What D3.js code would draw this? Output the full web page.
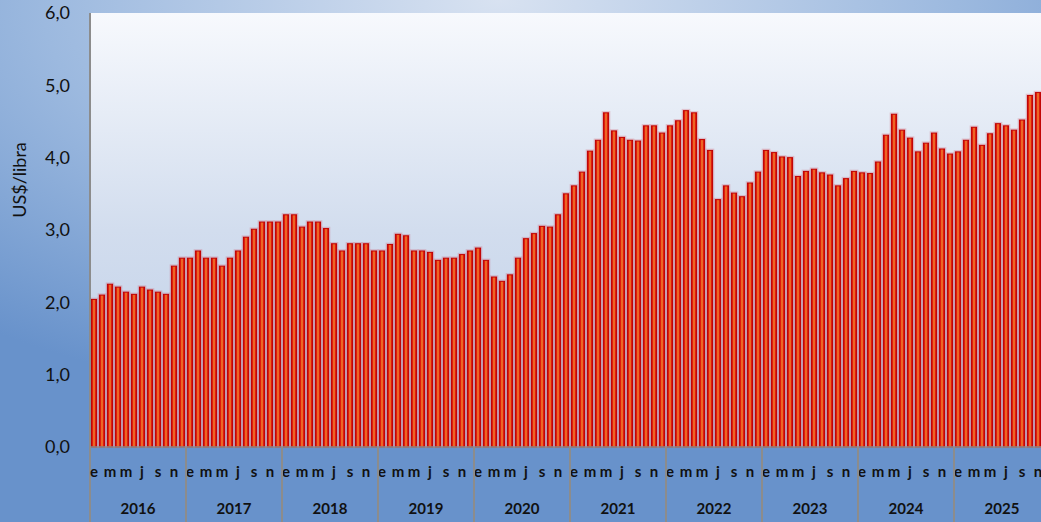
<!DOCTYPE html>
<html>
<head>
<meta charset="utf-8">
<script src="https://cdn.jsdelivr.net/npm/d3@7"></script>
<style>
  html, body { margin: 0; padding: 0; overflow: hidden; }
  body { width: 1041px; height: 522px; }
  svg { display: block; font-family: Lato, "Open Sans", sans-serif; }
</style>
</head>
<body>
<svg id="chart" width="1041" height="522"></svg>
<script>
// ---- data ----
const years = ["2016","2017","2018","2019","2020","2021","2022","2023","2024","2025"];
const monthLabels = ["e","","m","","m","","j","","s","","n",""];
const yTicks = [0, 1, 2, 3, 4, 5, 6];
const prices = [
  2.04, 2.10, 2.25, 2.21, 2.14, 2.11, 2.21, 2.17, 2.14, 2.11, 2.50, 2.61,
  2.61, 2.71, 2.61, 2.61, 2.50, 2.61, 2.71, 2.90, 3.01, 3.11, 3.11, 3.11,
  3.21, 3.21, 3.04, 3.11, 3.11, 3.02, 2.81, 2.71, 2.81, 2.81, 2.81, 2.71,
  2.71, 2.80, 2.94, 2.92, 2.71, 2.71, 2.69, 2.58, 2.61, 2.61, 2.66, 2.71,
  2.75, 2.58, 2.35, 2.29, 2.38, 2.61, 2.88, 2.95, 3.05, 3.04, 3.21, 3.50,
  3.61, 3.80, 4.09, 4.24, 4.62, 4.37, 4.28, 4.24, 4.23, 4.44, 4.44, 4.34,
  4.44, 4.51, 4.65, 4.62, 4.25, 4.10, 3.42, 3.61, 3.51, 3.46, 3.65, 3.80,
  4.10, 4.07, 4.01, 4.00, 3.74, 3.81, 3.84, 3.79, 3.76, 3.61, 3.71, 3.81,
  3.79, 3.78, 3.94, 4.31, 4.60, 4.38, 4.27, 4.08, 4.20, 4.34, 4.12, 4.05,
  4.08, 4.24, 4.42, 4.17, 4.33, 4.47, 4.44, 4.38, 4.52, 4.86, 4.90
];

// ---- layout ----
const W = 1041, H = 522;
const plotL = 90, plotR = 1050, plotT = 13, plotB = 447;

const svg = d3.select("#chart");
const defs = svg.append("defs");

const bg = defs.append("radialGradient").attr("id", "bgGrad")
  .attr("cx", "48%").attr("cy", "0%").attr("r", "80%")
  .attr("gradientUnits", "objectBoundingBox");
bg.append("stop").attr("offset", "0").attr("stop-color", "#d8e2f1");
bg.append("stop").attr("offset", "0.55").attr("stop-color", "#9cb9df");
bg.append("stop").attr("offset", "1").attr("stop-color", "#6892cb");

const pg = defs.append("linearGradient").attr("id", "plotGrad")
  .attr("x1", 0).attr("y1", 0).attr("x2", 0).attr("y2", 1);
pg.append("stop").attr("offset", "0").attr("stop-color", "#f7f9fd");
pg.append("stop").attr("offset", "0.5").attr("stop-color", "#d2ddee");
pg.append("stop").attr("offset", "1").attr("stop-color", "#bccde7");

const barG = defs.append("linearGradient").attr("id", "barGrad")
  .attr("x1", 0).attr("y1", 0).attr("x2", 1).attr("y2", 0);
barG.append("stop").attr("offset", "0").attr("stop-color", "#d00c08");
barG.append("stop").attr("offset", "0.3").attr("stop-color", "#e3260e");
barG.append("stop").attr("offset", "0.5").attr("stop-color", "#f6a23c");
barG.append("stop").attr("offset", "0.7").attr("stop-color", "#e3260e");
barG.append("stop").attr("offset", "1").attr("stop-color", "#d00c08");

svg.append("rect").attr("width", W).attr("height", H).attr("fill", "url(#bgGrad)");
svg.append("rect").attr("x", plotL).attr("y", plotT)
  .attr("width", plotR - plotL).attr("height", plotB - plotT)
  .attr("fill", "url(#plotGrad)");

// ---- scales ----
const nSlots = years.length * 12;
const x = d3.scaleBand().domain(d3.range(nSlots)).range([plotL, plotR])
  .paddingInner(0.36).paddingOuter(0.18);
const xYear = d3.scaleBand().domain(years).range([plotL, plotR]);
const y = d3.scaleLinear().domain([0, 6]).range([plotB, plotT]);

const fmt = v => d3.format(".1f")(v).replace(".", ",");

// ---- bars ----
const bars = svg.append("g");
bars.selectAll("rect.glow").data(prices).join("rect")
  .attr("class", "glow")
  .attr("x", (d, i) => x(i) - 1)
  .attr("y", d => y(d) - 1)
  .attr("width", x.bandwidth() + 2)
  .attr("height", d => plotB - y(d) + 1)
  .attr("fill", "none")
  .attr("stroke", "rgba(200,40,60,0.22)")
  .attr("stroke-width", 1.5);
bars.selectAll("rect.bar").data(prices).join("rect")
  .attr("class", "bar")
  .attr("x", (d, i) => x(i))
  .attr("y", d => y(d))
  .attr("width", x.bandwidth())
  .attr("height", d => plotB - y(d))
  .attr("fill", "url(#barGrad)")
  .attr("stroke", "#c00000")
  .attr("stroke-width", 1);

// ---- y axis ----
const yAxis = svg.append("g")
  .attr("transform", `translate(${plotL},0)`)
  .call(d3.axisLeft(y).tickValues(yTicks).tickFormat(fmt).tickSize(0).tickPadding(20));
yAxis.select(".domain").remove();
yAxis.selectAll("text")
  .attr("font-family", "Lato, 'Open Sans', sans-serif")
  .attr("font-size", 18).attr("fill", "#111");

svg.append("line").attr("x1", plotL).attr("x2", plotL)
  .attr("y1", plotT).attr("y2", H)
  .attr("stroke", "#8c8c8c").attr("stroke-width", 2);

// ---- x axis ----
svg.append("line").attr("x1", plotL).attr("x2", plotR)
  .attr("y1", plotB).attr("y2", plotB)
  .attr("stroke", "#8c8c8c").attr("stroke-width", 1.5);

const xAxis = svg.append("g")
  .attr("transform", `translate(0,${plotB})`)
  .call(d3.axisBottom(x).tickSize(0).tickPadding(19)
    .tickFormat(i => monthLabels[i % 12]));
xAxis.select(".domain").remove();
xAxis.selectAll("text")
  .attr("font-family", "Lato, 'Open Sans', sans-serif")
  .attr("font-weight", "bold").attr("font-size", 15).attr("fill", "#111");

// year dividers
svg.append("g").selectAll("line").data(years.slice(1)).join("line")
  .attr("x1", d => xYear(d)).attr("x2", d => xYear(d))
  .attr("y1", plotB).attr("y2", H)
  .attr("stroke", "#8c8c8c").attr("stroke-width", 2);

// year labels
svg.append("g").selectAll("text").data(years).join("text")
  .attr("x", d => xYear(d) + xYear.bandwidth() / 2)
  .attr("y", 509)
  .attr("dy", "0.35em")
  .attr("text-anchor", "middle")
  .attr("font-weight", "bold").attr("font-size", 15).attr("fill", "#111")
  .text(d => d);

// y axis title
svg.append("text")
  .attr("transform", "translate(20,180) rotate(-90)")
  .attr("text-anchor", "middle")
  .attr("dy", "0.35em")
  .attr("font-size", 18).attr("fill", "#111")
  .text("US$/libra");
</script>
</body>
</html>
